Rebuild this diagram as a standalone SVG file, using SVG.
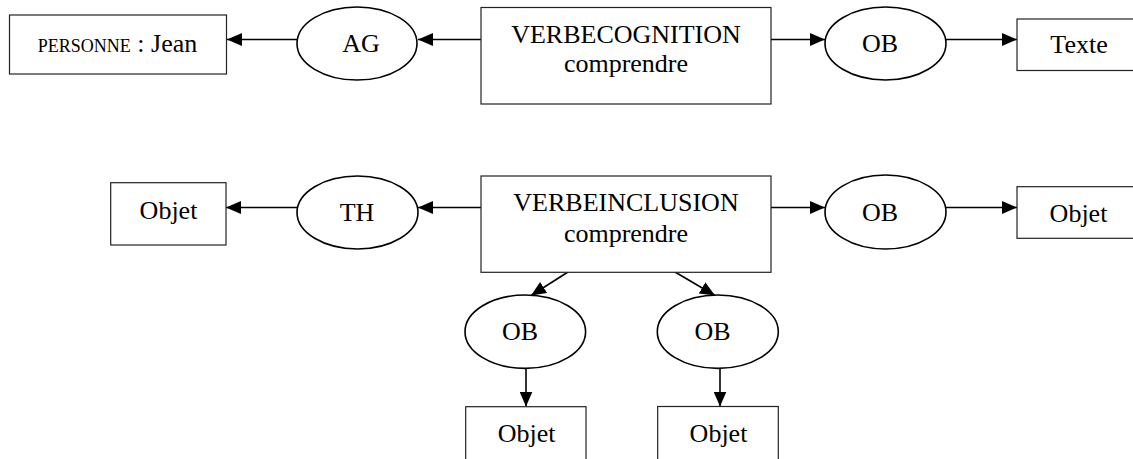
<svg xmlns="http://www.w3.org/2000/svg" width="1133" height="459" viewBox="0 0 1133 459">
<style>
  .box { fill: #fff; stroke: #222; stroke-width: 1.2; }
  .ell { fill: #fff; stroke: #000; stroke-width: 1.6; }
  .t { font-family: "Liberation Serif", "Times New Roman", serif; font-size: 26px; fill: #000; text-anchor: middle; }
  .sc { font-size: 18px; }
  .conn line { stroke: #000; stroke-width: 1.6; marker-end: url(#arr); }
</style>
<defs>
  <marker id="arr" markerUnits="userSpaceOnUse" markerWidth="15" markerHeight="13" refX="15" refY="6.5" orient="auto">
    <path d="M0,0 L15,6.5 L0,13 z" fill="#000"/>
  </marker>
</defs>
<rect width="1133" height="459" fill="#fff"/>

<g id="conn" class="conn">
  <line x1="297" y1="39.5" x2="227" y2="39.5"/>
  <line x1="481" y1="39.5" x2="418" y2="39.5"/>
  <line x1="771" y1="39.5" x2="825" y2="39.5"/>
  <line x1="946" y1="39.5" x2="1017" y2="39.5"/>
  <line x1="297" y1="207.5" x2="226" y2="207.5"/>
  <line x1="481" y1="207.5" x2="418" y2="207.5"/>
  <line x1="771" y1="207.5" x2="825" y2="207.5"/>
  <line x1="946" y1="207.5" x2="1017" y2="207.5"/>
  <line x1="568" y1="272" x2="531" y2="295.5"/>
  <line x1="675" y1="272" x2="715" y2="295.5"/>
  <line x1="526" y1="368" x2="526" y2="406.5"/>
  <line x1="720" y1="368" x2="720" y2="406.5"/>
</g>

<g id="personne">
  <rect class="box" x="9.5" y="15" width="217" height="59"/>
  <text class="t" x="117.5" y="52"><tspan class="sc">PERSONNE</tspan> : Jean</text>
</g>
<g id="ag">
  <ellipse class="ell" cx="357" cy="43.5" rx="60" ry="36.5"/>
  <text class="t" x="361" y="52">AG</text>
</g>
<g id="verbecognition">
  <rect class="box" x="481" y="7.5" width="290" height="96.5"/>
  <text class="t" x="626" y="43.3">VERBECOGNITION</text>
  <text class="t" x="626" y="71.8">comprendre</text>
</g>
<g id="ob1">
  <ellipse class="ell" cx="885.5" cy="43.5" rx="60.5" ry="36.5"/>
  <text class="t" x="880" y="51.7">OB</text>
</g>
<g id="texte">
  <rect class="box" x="1017" y="19" width="125" height="51.5"/>
  <text class="t" x="1079" y="53.3">Texte</text>
</g>

<g id="objet1">
  <rect class="box" x="110.7" y="182.7" width="115.3" height="62.3"/>
  <text class="t" x="168.5" y="219.3">Objet</text>
</g>
<g id="th">
  <ellipse class="ell" cx="357.5" cy="212.5" rx="60.5" ry="36.5"/>
  <text class="t" x="357" y="221">TH</text>
</g>
<g id="verbeinclusion">
  <rect class="box" x="481" y="176" width="290" height="96.3"/>
  <text class="t" x="626" y="210.7">VERBEINCLUSION</text>
  <text class="t" x="626" y="241.7">comprendre</text>
</g>
<g id="ob2">
  <ellipse class="ell" cx="885.5" cy="212" rx="60.5" ry="37"/>
  <text class="t" x="880" y="221">OB</text>
</g>
<g id="objet2">
  <rect class="box" x="1017" y="186.7" width="125" height="51.6"/>
  <text class="t" x="1078.5" y="221.5">Objet</text>
</g>

<g id="ob3">
  <ellipse class="ell" cx="525.3" cy="331.7" rx="60.3" ry="36.7"/>
  <text class="t" x="520" y="340">OB</text>
</g>
<g id="ob4">
  <ellipse class="ell" cx="717.8" cy="331.7" rx="60.5" ry="36.7"/>
  <text class="t" x="712.5" y="340">OB</text>
</g>
<g id="objet3">
  <rect class="box" x="465.7" y="406.7" width="120.3" height="70"/>
  <text class="t" x="526.7" y="441.7">Objet</text>
</g>
<g id="objet4">
  <rect class="box" x="657.7" y="406.5" width="120.6" height="70"/>
  <text class="t" x="718.5" y="441.7">Objet</text>
</g>
</svg>
